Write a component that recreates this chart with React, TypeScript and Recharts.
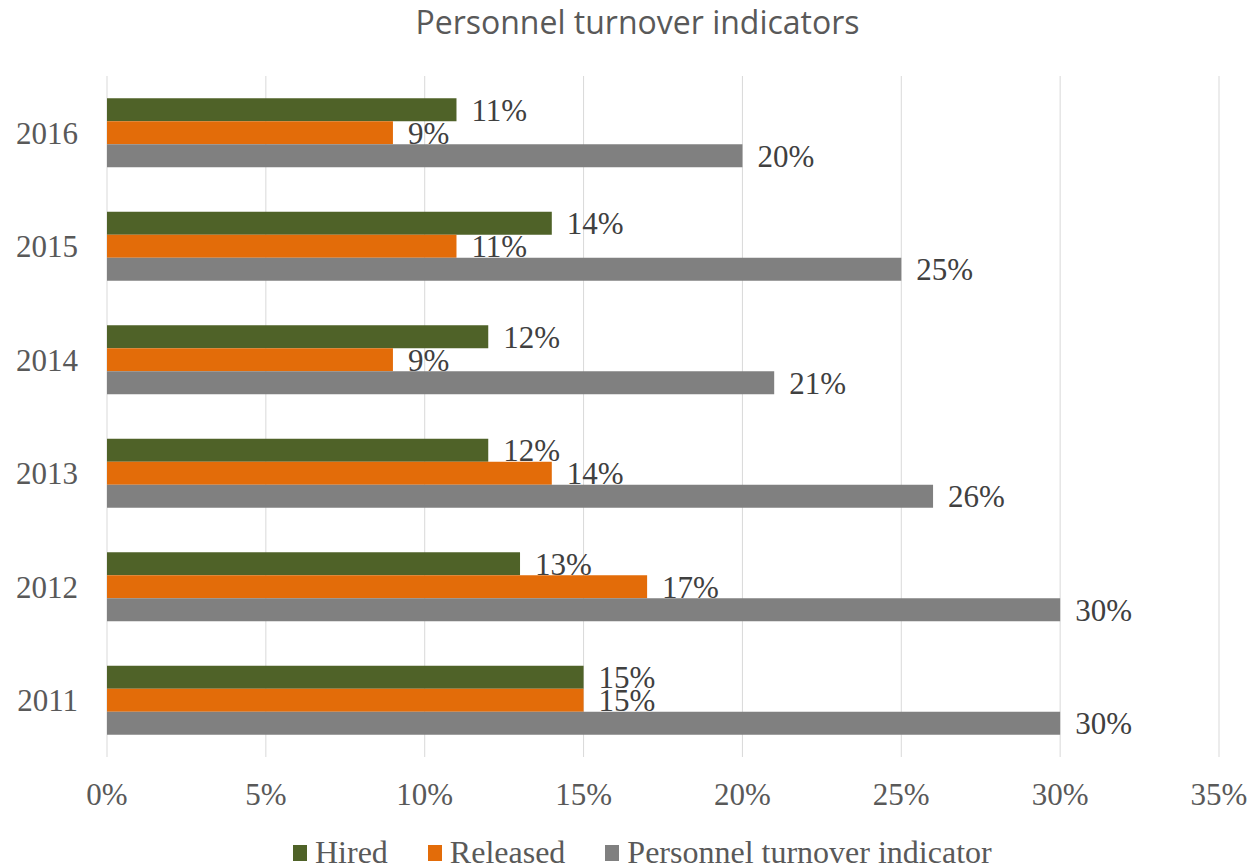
import { BarChart, Bar, XAxis, YAxis, CartesianGrid, Legend, LabelList } from "recharts";

const years = ["2011", "2012", "2013", "2014", "2015", "2016"];
const hired = [15, 13, 12, 12, 14, 11];
const released = [15, 17, 14, 9, 11, 9];
const turnover = [30, 30, 26, 21, 25, 20];
const xTicks = [0, 5, 10, 15, 20, 25, 30, 35];

const SERIES = [
  { key: "hired", name: "Hired", color: "#4f6228" },
  { key: "released", name: "Released", color: "#e36c09" },
  { key: "turnover", name: "Personnel turnover indicator", color: "#808080" },
];

const data = years.map((year, i) => ({
  year,
  hired: hired[i],
  released: released[i],
  turnover: turnover[i],
}));

const SERIF = '"Liberation Serif", "Times New Roman", serif';
const tickStyle = { fontFamily: SERIF, fontSize: 31, fill: "#595959" };

function renderLegend() {
  return (
    <div style={{ display: "flex", alignItems: "center", paddingLeft: 293, fontFamily: SERIF, fontSize: 32, color: "#595959" }}>
      {SERIES.map((s) => (
        <div key={s.key} style={{ display: "flex", alignItems: "center", marginRight: 40 }}>
          <span style={{ display: "inline-block", width: 14, height: 16, background: s.color, marginRight: 8 }} />
          <span>{s.name}</span>
        </div>
      ))}
    </div>
  );
}

export default function App() {
  return (
    <div style={{ position: "absolute", left: 0, top: 0, width: 1259, height: 868, background: "#fff" }}>
      <div
        style={{
          position: "absolute",
          top: 0,
          left: 8,
          width: 1259,
          textAlign: "center",
          fontFamily: '"Open Sans", sans-serif',
          fontSize: 32,
          color: "#595959",
          zIndex: 1,
        }}
      >
        Personnel turnover indicators
      </div>
      <BarChart
        width={1259}
        height={868}
        data={data}
        layout="vertical"
        margin={{ top: 76, right: 40, bottom: 25, left: 0 }}
        barCategoryGap="19.5%"
        barGap={0}
      >
        <CartesianGrid horizontal={false} stroke="#d9d9d9" />
        <XAxis
          type="number"
          domain={[0, 35]}
          ticks={xTicks}
          tickFormatter={(v) => `${v}%`}
          axisLine={false}
          tickLine={false}
          tickSize={0}
          tickMargin={26}
          height={50}
          tick={tickStyle}
          interval={0}
        />
        <YAxis
          type="category"
          dataKey="year"
          reversed
          axisLine={false}
          tickLine={false}
          tickSize={0}
          tickMargin={29}
          width={107}
          tick={tickStyle}
        />
        <Legend
          verticalAlign="bottom"
          content={renderLegend}
          wrapperStyle={{ position: "absolute", left: 0, top: 834, width: 1259, height: 36 }}
        />
        {SERIES.map((s) => (
          <Bar key={s.key} dataKey={s.key} name={s.name} fill={s.color} isAnimationActive={false}>
            <LabelList
              dataKey={s.key}
              position="right"
              offset={15}
              formatter={(v: number) => `${v}%`}
              style={{ fontFamily: SERIF, fontSize: 31, fill: "#404040" }}
            />
          </Bar>
        ))}
      </BarChart>
    </div>
  );
}
